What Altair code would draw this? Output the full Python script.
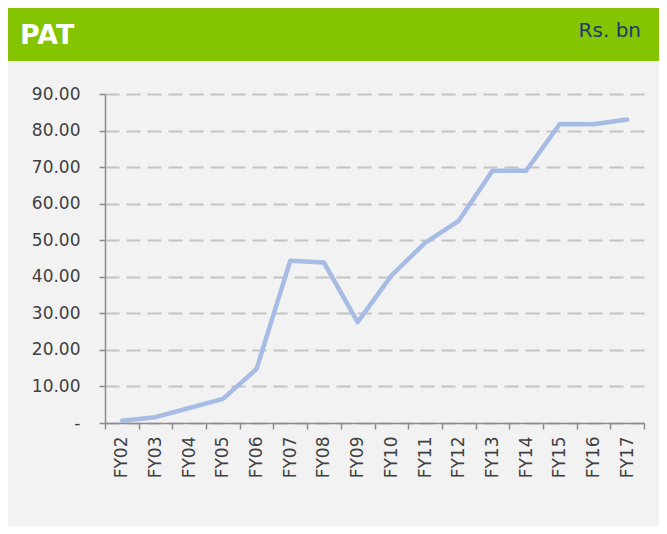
import altair as alt
import pandas as pd

years = ["FY02", "FY03", "FY04", "FY05", "FY06", "FY07", "FY08", "FY09",
         "FY10", "FY11", "FY12", "FY13", "FY14", "FY15", "FY16", "FY17"]
pat = [0.6, 1.6, 4.1, 6.6, 14.8, 44.4, 43.9, 27.6,
       40.3, 49.3, 55.3, 69.0, 69.0, 81.8, 81.7, 83.0]
y_ticks = [0, 10, 20, 30, 40, 50, 60, 70, 80, 90]
title_text = "PAT"
unit_text = "Rs. bn"

df = pd.DataFrame({"year": years, "pat": pat})
one = pd.DataFrame({"k": [0]})

W, H = 539, 329
PL, PT, PR, PB = 97, 86, 15, 103
FONT = "DejaVu Sans"

line = alt.Chart(df).mark_line(
    color="#a6bce4", strokeWidth=4.5, strokeCap="round", strokeJoin="round"
).encode(
    x=alt.X("year:N", sort=years, bandPosition=0.5,
            scale=alt.Scale(type="band", paddingInner=0, paddingOuter=0),
            axis=alt.Axis(title=None, labelAngle=270, tickBand="extent",
                          tickSize=6, tickColor="#8c8c8c", tickWidth=1.5,
                          domainColor="#8c8c8c", domainWidth=1.5,
                          labelPadding=7, labelFontSize=17, labelFont=FONT,
                          labelColor="#404040", grid=False)),
    y=alt.Y("pat:Q", scale=alt.Scale(domain=[0, 90], nice=False, zero=True),
            axis=alt.Axis(title=None, values=y_ticks,
                          labelExpr="datum.value == 0 ? '-\u00a0\u00a0' : format(datum.value, '.2f')",
                          grid=True, gridDash=[14, 7], gridColor="#c3c3c3", gridWidth=2,
                          tickSize=6, tickColor="#8c8c8c", tickWidth=1.5,
                          domainColor="#8c8c8c", domainWidth=1.5,
                          labelPadding=19, labelFontSize=17, labelFont=FONT,
                          labelColor="#404040")),
)

header = alt.Chart(one).mark_rect(color="#84c400").encode(
    x=alt.value(-PL), x2=alt.value(W + PR),
    y=alt.value(-PT), y2=alt.value(-PT + 53),
)

title = alt.Chart(one).mark_text(
    text=title_text, font=FONT, fontWeight="bold", fontSize=27, color="white",
    align="left", baseline="alphabetic"
).encode(x=alt.value(-85), y=alt.value(-50))

unit = alt.Chart(one).mark_text(
    text=unit_text, font=FONT, fontSize=20, color="#1f3a6e",
    align="right", baseline="alphabetic"
).encode(x=alt.value(536), y=alt.value(-57))

chart = alt.layer(header, title, unit, line).properties(
    width=W, height=H,
    padding={"left": PL, "top": PT, "right": PR, "bottom": PB},
    autosize=alt.AutoSizeParams(type="none"),
    background="#f2f2f2",
).configure_view(stroke=None)

chart.save("out.html", embed_options={"renderer": "svg", "actions": False})
